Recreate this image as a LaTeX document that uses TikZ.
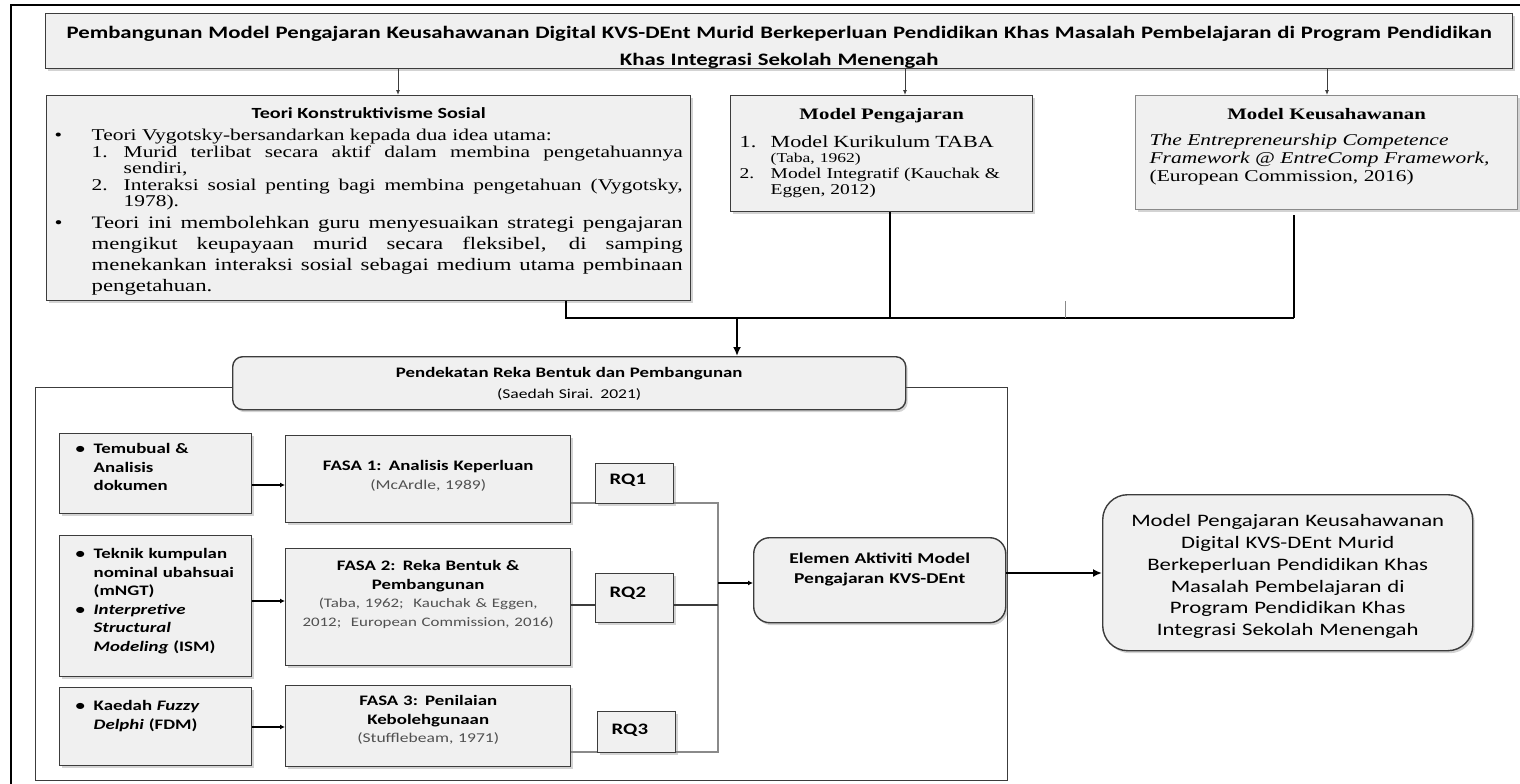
\documentclass[tikz,border=0pt]{standalone}
\usepackage{fontspec}
\setmainfont{Liberation Serif}[FakeStretch=1.3]
\setsansfont{Carlito}[FakeStretch=1.3]
\usepackage{xcolor}
\usepackage{tikz}
\usetikzlibrary{arrows.meta,shadows}
\definecolor{boxfill}{HTML}{F0F0F0}
\definecolor{boxline}{HTML}{3C3C3C}
\definecolor{busgray}{HTML}{8A8A8A}
\definecolor{citegray}{HTML}{505050}

\begin{document}
\begin{tikzpicture}[x=1pt,y=-1pt]
	\tikzset{flat box/.style={draw=boxline,line width=1.4pt,fill=boxfill,inner ysep=0pt,anchor=north west,
		drop shadow={shadow xshift=2pt,shadow yshift=-2.5pt,opacity=0.35}}}
	\tikzset{round box/.style={flat box,rounded corners=#1}}
	\tikzset{side box/.style={flat box,text width=168pt,inner xsep=12pt,align=left,
		font=\sffamily\bfseries\fontsize{14.5}{18.5}\selectfont}}
	\tikzset{fasa box/.style={flat box,text width=269pt,inner xsep=8pt,align=center,
		font=\sffamily\fontsize{14.5}{18.5}\selectfont}}
	\tikzset{rq box/.style={flat box,text width=50pt,inner xsep=14pt,align=left,
		font=\sffamily\bfseries\fontsize{16}{16}\selectfont}}
	\tikzset{thin arrow/.style={draw=boxline,line width=0.9pt,-{Latex[length=5pt,width=4pt]}}}
	\tikzset{small arrow/.style={line width=1.4pt,-{Latex[length=5pt,width=5pt]}}}
	\tikzset{heavy line/.style={line width=2.6pt}}
	\tikzset{heavy arrow/.style={line width=2.6pt,-{Latex[length=9pt,width=8pt]}}}

	\useasboundingbox (0,0) rectangle (1520,784);
	\draw[line width=1.5pt] (11,784) -- (11,5) -- (1520,5);

	\node[flat box,text width=1457pt,inner xsep=5pt,text height=25pt,text depth=30pt,align=center,
		font=\sffamily\bfseries\fontsize{17.5}{27}\selectfont] (title) at (45,13)
		{Pembangunan Model Pengajaran Keusahawanan Digital KVS-DEnt Murid Berkeperluan Pendidikan Khas Masalah Pembelajaran di Program Pendidikan\\Khas Integrasi Sekolah Menengah};

	\node[flat box,text width=628pt,inner xsep=8pt,text height=23pt,text depth=182pt,align=justify,
		font=\fontsize{16.5}{16.5}\selectfont] (teori) at (46,95) {%
		{\sffamily\bfseries\fontsize{15.5}{16}\selectfont\centering Teori Konstruktivisme Sosial\par}
		\vspace{5.5pt}
		\noindent\hangindent=37pt\hangafter=1\makebox[37pt][l]{\textbullet}Teori Vygotsky-bersandarkan kepada dua idea utama:\par
		{\leftskip=37pt
		\noindent\hangindent=32pt\hangafter=1\makebox[32pt][l]{1.}Murid terlibat secara aktif dalam membina pengetahuannya\linebreak sendiri,\par
		\noindent\hangindent=32pt\hangafter=1\makebox[32pt][l]{2.}Interaksi sosial penting bagi membina pengetahuan (Vygotsky,\linebreak 1978).\par}
		{\fontsize{17.5}{21.3}\selectfont
		\noindent\hangindent=37pt\hangafter=1\makebox[37pt][l]{\textbullet}Teori ini membolehkan guru menyesuaikan strategi pengajaran\linebreak mengikut keupayaan murid secara fleksibel, di samping\linebreak menekankan interaksi sosial sebagai medium utama pembinaan\linebreak pengetahuan.\par}};

	\node[flat box,text width=284pt,inner xsep=9pt,text height=24pt,text depth=92pt,align=left,
		font=\fontsize{15}{16}\selectfont] (mp) at (730,95) {%
		{\bfseries\fontsize{16}{16}\selectfont\centering Model Pengajaran\par}
		{\fontsize{17}{28}\selectfont\noindent\makebox[31pt][l]{1.}Model Kurikulum TABA\par}
		{\fontsize{13.5}{15}\selectfont\leftskip=31pt\noindent(Taba, 1962)\par}
		\noindent\hangindent=31pt\hangafter=1\makebox[31pt][l]{2.}Model Integratif (Kauchak \&\newline Eggen, 2012)\par};

	\node[flat box,draw=busgray,line width=1.2pt,text width=354pt,inner xsep=14pt,text height=24pt,text depth=90pt,align=left,
		font=\fontsize{16.5}{18}\selectfont] (mk) at (1135,95) {%
		{\bfseries\fontsize{16}{16}\selectfont\centering Model Keusahawanan\par}
		\vspace{8pt}
		\noindent\textit{The Entrepreneurship Competence\newline Framework @ EntreComp Framework,}\newline (European Commission, 2016)\par};

	\coordinate (ta) at (398,0);
	\coordinate (tb) at (905,0);
	\coordinate (tc) at (1327,0);
	\draw[thin arrow] (title.south -| ta) -- (teori.north -| ta);
	\draw[thin arrow] (title.south -| tb) -- (mp.north -| tb);
	\draw[thin arrow] (title.south -| tc) -- (mk.north -| tc);

	\node[draw=boxline,line width=1.3pt,anchor=north west,inner sep=0pt,minimum width=972pt,minimum height=393pt] (stage) at (35,387) {};

	\node[round box=10pt,text width=653pt,inner xsep=10pt,text height=21pt,text depth=32pt,align=center,
		font=\sffamily\fontsize{13.5}{21}\selectfont] (pend) at (232,356)
		{\textbf{\fontsize{14.5}{21}\selectfont Pendekatan Reka Bentuk dan Pembangunan}\\(Saedah Sirai. 2021)};

	\coordinate (ja) at (566,318);
	\coordinate (jb) at (890,318);
	\coordinate (jc) at (1294,318);
	\coordinate (jd) at (737,318);
	\coordinate (tk) at (1065,301);
	\draw[line width=2pt] (teori.south -| ja) -- (ja) -- (jc);
	\draw[heavy line] (mp.south -| jb) -- (jb);
	\draw[heavy line] (mk.south -| jc) ++(0,5) -- (jc);
	\draw[busgray,line width=0.8pt] (tk) -- (tk |- ja);
	\draw[heavy arrow] (jd) -- (jd |- pend.north);

	\node[side box,text height=20pt,text depth=60pt] (tmb) at (59,433)
		{\hangindent=22pt\hangafter=1\noindent\hspace*{4pt}\makebox[18pt][l]{\textbullet}Temubual \&\newline Analisis\newline dokumen\par};
	\node[side box,text height=23pt,text depth=118pt] (tkn) at (59,535)
		{\hangindent=22pt\hangafter=1\noindent\hspace*{4pt}\makebox[18pt][l]{\textbullet}Teknik kumpulan\newline nominal ubahsuai\newline (mNGT)\par
		\hangindent=22pt\hangafter=1\noindent\hspace*{4pt}\makebox[18pt][l]{\textbullet}\textit{Interpretive}\newline \textit{Structural}\newline \textit{Modeling} (ISM)\par};
	\node[side box,text height=23pt,text depth=55pt] (kdh) at (59,687)
		{\hangindent=22pt\hangafter=1\noindent\hspace*{4pt}\makebox[18pt][l]{\textbullet}Kaedah \textit{Fuzzy}\newline \textit{Delphi} (FDM)\par};

	\node[fasa box,text height=35pt,text depth=52pt] (fasa1) at (285,435)
		{\textbf{FASA 1: Analisis Keperluan}\\\textcolor{citegray}{\fontsize{13.5}{17}\selectfont(McArdle, 1989)}};
	\node[fasa box,text height=22pt,text depth=95pt] (fasa2) at (285,548)
		{\textbf{FASA 2: Reka Bentuk \&}\\\textbf{Pembangunan}\\\textcolor{citegray}{\fontsize{13}{18.5}\selectfont(Taba, 1962;\ \ Kauchak \& Eggen,}\\\textcolor{citegray}{\fontsize{13}{18.5}\selectfont 2012;\ \ European Commission, 2016)}};
	\node[fasa box,text height=20pt,text depth=61pt] (fasa3) at (285,685)
		{\textbf{FASA 3: Penilaian}\\\textbf{Kebolehgunaan}\\\textcolor{citegray}{\fontsize{13.5}{18.5}\selectfont(Stufflebeam, 1971)}};

	\draw[small arrow] (tmb.east |- 0,485) -- (fasa1.west |- 0,485);
	\draw[small arrow] (tkn.east |- 0,601) -- (fasa2.west |- 0,601);
	\draw[small arrow] (kdh.east |- 0,727) -- (fasa3.west |- 0,727);

	\coordinate (bt) at (718,503);
	\coordinate (bb) at (718,752);
	\coordinate (bm) at (718,605);
	\coordinate (be) at (718,583);
	\draw[busgray,line width=1.5pt] (fasa1.east |- bt) -- (bt) -- (bb) -- (fasa3.east |- bb);

	\node[rq box,text height=21pt,text depth=19pt] (rq1) at (595,463) {RQ1};
	\node[rq box,text height=24pt,text depth=25pt] (rq2) at (595,573) {RQ2};
	\node[rq box,text height=23pt,text depth=18pt] (rq3) at (597,711) {RQ3};

	\draw[boxline,line width=1.3pt] (fasa2.east |- bm) -- (rq2.west |- bm);
	\draw[boxline,line width=1.3pt] (rq2.east |- bm) -- (bm);

	\node[round box=16pt,text width=236pt,inner xsep=8pt,text height=26pt,text depth=59pt,align=center,
		font=\sffamily\bfseries\fontsize{15}{20}\selectfont] (elemen) at (753,537)
		{Elemen Aktiviti Model\\Pengajaran KVS-DEnt};
	\draw[small arrow] (be) -- (elemen.west |- be);

	\node[round box=25pt,text width=350pt,inner xsep=10pt,text height=32pt,text depth=124pt,align=center,
		font=\sffamily\fontsize{17.5}{21.8}\selectfont] (res) at (1102,494)
		{Model Pengajaran Keusahawanan\\Digital KVS-DEnt Murid\\Berkeperluan Pendidikan Khas\\Masalah Pembelajaran di\\Program Pendidikan Khas\\Integrasi Sekolah Menengah};
	\draw[heavy arrow] (elemen.east |- 0,573) -- (res.west |- 0,573);
\end{tikzpicture}
\end{document}
